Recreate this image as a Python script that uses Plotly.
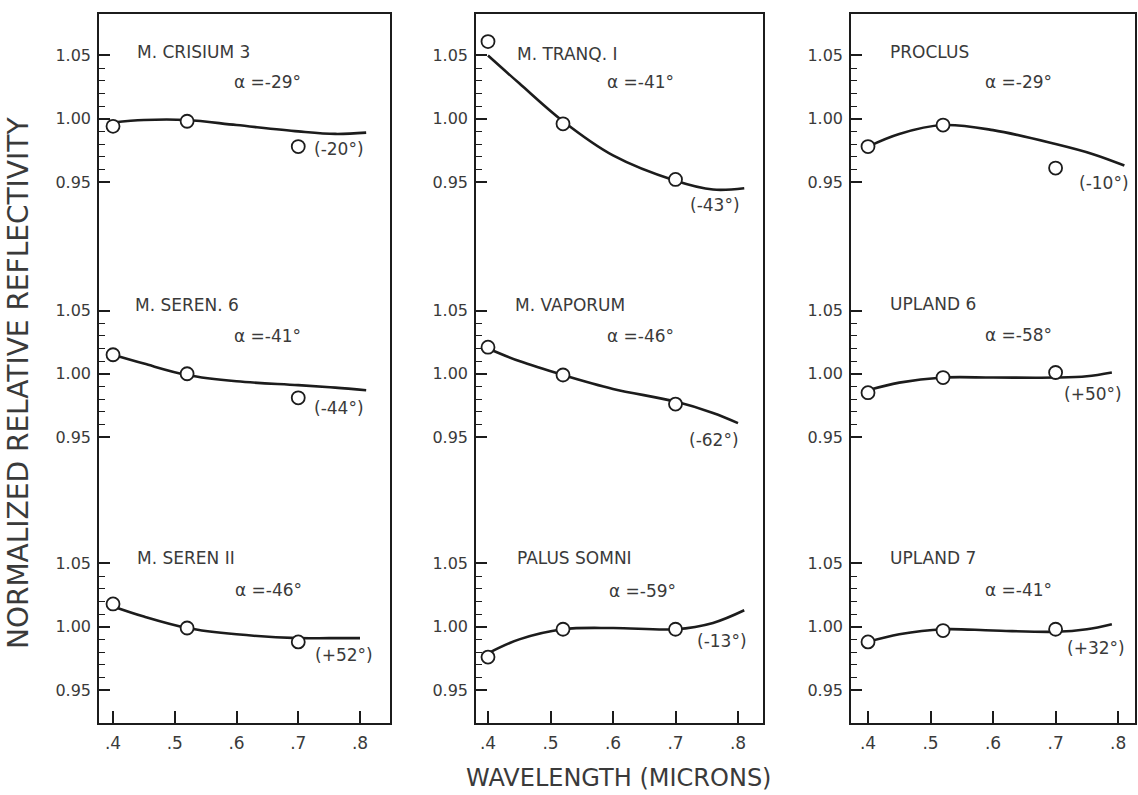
import plotly.graph_objects as go

# ---------------- data ----------------
panel_names = ["M. CRISIUM 3", "M. TRANQ. I", "PROCLUS",
               "M. SEREN. 6", "M. VAPORUM", "UPLAND 6",
               "M. SEREN II", "PALUS SOMNI", "UPLAND 7"]
alpha_labels = ["α =-29°", "α =-41°", "α =-29°",
                "α =-41°", "α =-46°", "α =-58°",
                "α =-46°", "α =-59°", "α =-41°"]
angle_notes = ["(-20°)", "(-43°)", "(-10°)",
               "(-44°)", "(-62°)", "(+50°)",
               "(+52°)", "(-13°)", "(+32°)"]

point_x = [0.40, 0.52, 0.70]
crisium3_pts = [0.994, 0.998, 0.978]
tranq1_pts = [1.061, 0.996, 0.952]
proclus_pts = [0.978, 0.995, 0.961]
seren6_pts = [1.015, 1.000, 0.981]
vaporum_pts = [1.021, 0.999, 0.976]
upland6_pts = [0.985, 0.997, 1.001]
seren11_pts = [1.018, 0.999, 0.988]
palus_pts = [0.976, 0.998, 0.998]
upland7_pts = [0.988, 0.997, 0.998]

crisium3_cx = [0.40, 0.45, 0.52, 0.60, 0.70, 0.76, 0.81]
crisium3_cy = [0.997, 0.999, 0.999, 0.995, 0.990, 0.988, 0.989]
tranq1_cx = [0.40, 0.45, 0.52, 0.60, 0.70, 0.76, 0.81]
tranq1_cy = [1.050, 1.028, 0.998, 0.971, 0.951, 0.944, 0.945]
proclus_cx = [0.40, 0.45, 0.52, 0.60, 0.70, 0.76, 0.81]
proclus_cy = [0.978, 0.988, 0.995, 0.991, 0.980, 0.972, 0.963]
seren6_cx = [0.40, 0.45, 0.52, 0.60, 0.70, 0.76, 0.81]
seren6_cy = [1.015, 1.008, 0.999, 0.994, 0.991, 0.989, 0.987]
vaporum_cx = [0.40, 0.45, 0.52, 0.60, 0.70, 0.76, 0.80]
vaporum_cy = [1.020, 1.010, 0.999, 0.988, 0.978, 0.969, 0.961]
upland6_cx = [0.40, 0.45, 0.52, 0.60, 0.70, 0.75, 0.79]
upland6_cy = [0.987, 0.993, 0.997, 0.997, 0.997, 0.998, 1.001]
seren11_cx = [0.40, 0.45, 0.52, 0.60, 0.70, 0.75, 0.80]
seren11_cy = [1.016, 1.008, 0.999, 0.994, 0.991, 0.991, 0.991]
palus_cx = [0.40, 0.45, 0.52, 0.60, 0.70, 0.76, 0.81]
palus_cy = [0.979, 0.990, 0.998, 0.999, 0.998, 1.003, 1.013]
upland7_cx = [0.40, 0.45, 0.52, 0.60, 0.70, 0.75, 0.79]
upland7_cy = [0.988, 0.994, 0.998, 0.997, 0.996, 0.998, 1.002]

y_tick_vals = [0.95, 1.00, 1.05]
y_tick_text = ["0.95", "1.00", "1.05"]
y_minor_vals = [0.96, 0.97, 0.98, 0.99, 1.01, 1.02, 1.03, 1.04]
x_tick_vals = [0.4, 0.5, 0.6, 0.7, 0.8]
x_tick_text = [".4", ".5", ".6", ".7", ".8"]

x_title = "WAVELENGTH (MICRONS)"
y_title = "NORMALIZED RELATIVE REFLECTIVITY"

points = [crisium3_pts, tranq1_pts, proclus_pts, seren6_pts, vaporum_pts,
          upland6_pts, seren11_pts, palus_pts, upland7_pts]
curves = [(crisium3_cx, crisium3_cy), (tranq1_cx, tranq1_cy), (proclus_cx, proclus_cy),
          (seren6_cx, seren6_cy), (vaporum_cx, vaporum_cy), (upland6_cx, upland6_cy),
          (seren11_cx, seren11_cy), (palus_cx, palus_cy), (upland7_cx, upland7_cy)]

# ---------------- layout geometry ----------------
W, H = 1138, 795
col_px = [(99, 390), (476, 763), (851, 1135)]
row_px = [(14, 215), (215, 470), (470, 723)]
x_ranges = [[0.3773, 0.8486], [0.3808, 0.8400], [0.3728, 0.8270]]
y_ranges = [[0.9239, 1.0828], [0.9239, 1.1255], [0.9239, 1.1239]]

# label positions (data coords): name, alpha, note
name_pos = [(0.436, 1.053), (0.443, 1.051), (0.432, 1.053),
            (0.432, 1.054), (0.440, 1.054), (0.432, 1.055),
            (0.436, 1.054), (0.443, 1.054), (0.432, 1.054)]
alpha_pos = [(0.593, 1.029), (0.587, 1.029), (0.584, 1.029),
             (0.593, 1.030), (0.587, 1.030), (0.584, 1.031),
             (0.594, 1.029), (0.590, 1.028), (0.584, 1.029)]
note_pos = [(0.722, 0.976), (0.720, 0.932), (0.734, 0.949),
            (0.722, 0.973), (0.718, 0.948), (0.710, 0.984),
            (0.724, 0.978), (0.731, 0.989), (0.715, 0.983)]

INK = "#1c1c1c"
TXT = "#3a3a3a"
FONT = "DejaVu Sans"

fig = go.Figure()
annotations = []
layout = dict(width=W, height=H, margin=dict(l=0, r=0, t=0, b=0),
              paper_bgcolor="white", plot_bgcolor="white", showlegend=False)

for i in range(9):
    r, c = divmod(i, 3)
    n = i + 1
    xa = "x" if n == 1 else f"x{n}"
    ya = "y" if n == 1 else f"y{n}"
    cx, cy = curves[i]
    fig.add_trace(go.Scatter(x=cx, y=cy, mode="lines", xaxis=xa, yaxis=ya,
                             line=dict(color=INK, width=2.6, shape="spline", smoothing=1.0),
                             hoverinfo="skip"))
    fig.add_trace(go.Scatter(x=point_x, y=points[i], mode="markers", xaxis=xa, yaxis=ya,
                             marker=dict(symbol="circle", size=13, color="white",
                                         line=dict(color=INK, width=1.8))))
    x0, x1 = col_px[c]
    ytop, ybot = row_px[r]
    xdict = dict(domain=[x0 / W, x1 / W], range=x_ranges[c], anchor=ya,
                 showgrid=False, zeroline=False, fixedrange=True)
    if r == 2:
        xdict.update(showline=True, linecolor=INK, linewidth=1.6,
                     tickmode="array", tickvals=x_tick_vals, ticktext=x_tick_text,
                     ticks="inside", ticklen=12, tickwidth=1.5, tickcolor=INK,
                     ticklabelstandoff=4,
                     tickfont=dict(family=FONT, size=17, color=TXT))
    elif r == 0:
        xdict.update(side="top", showline=True, linecolor=INK, linewidth=1.6,
                     showticklabels=False, ticks="")
    else:
        xdict.update(visible=False)
    ydict = dict(domain=[1 - ybot / H, 1 - ytop / H], range=y_ranges[r], anchor=xa,
                 showgrid=False, zeroline=False, fixedrange=True,
                 showline=True, mirror=True, linecolor=INK, linewidth=1.6,
                 tickmode="array", tickvals=y_tick_vals, ticktext=y_tick_text,
                 ticks="inside", ticklen=11, tickwidth=1.5, tickcolor=INK,
                 ticklabelstandoff=3,
                 tickfont=dict(family=FONT, size=16, color=TXT),
                 minor=dict(tickvals=y_minor_vals, ticks="inside", ticklen=6,
                            tickwidth=1.2, tickcolor=INK, showgrid=False))
    layout["xaxis" if n == 1 else f"xaxis{n}"] = xdict
    layout["yaxis" if n == 1 else f"yaxis{n}"] = ydict

    for txt, pos in ((panel_names[i], name_pos[i]), (alpha_labels[i], alpha_pos[i]),
                     (angle_notes[i], note_pos[i])):
        annotations.append(dict(text=txt, x=pos[0], y=pos[1], xref=xa, yref=ya,
                                xanchor="left", yanchor="middle", showarrow=False,
                                font=dict(family=FONT, size=17, color=TXT)))

annotations.append(dict(text=x_title, x=618 / W, y=1 - 778 / H, xref="paper", yref="paper",
                        xanchor="center", yanchor="middle", showarrow=False,
                        font=dict(family=FONT, size=24, color=TXT)))
annotations.append(dict(text=y_title, x=18 / W, y=1 - 383 / H, xref="paper", yref="paper",
                        xanchor="center", yanchor="middle", textangle=-90, showarrow=False,
                        font=dict(family=FONT, size=28, color=TXT)))
layout["annotations"] = annotations
fig.update_layout(**layout)
fig.write_html("out.html", config={"displayModeBar": False},
               post_script="document.body.style.margin='0px';document.body.style.overflow='hidden';")
